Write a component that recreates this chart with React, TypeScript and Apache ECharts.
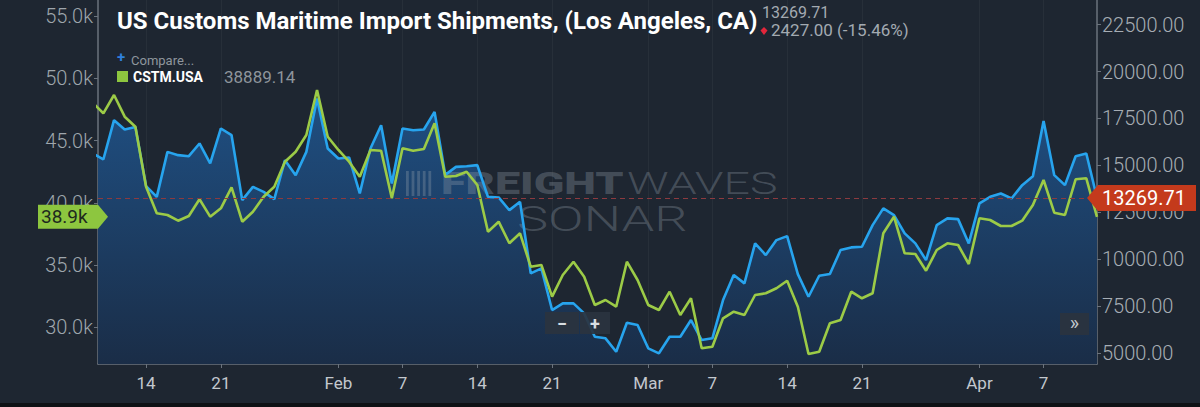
import React, { useEffect, useRef } from "react";
import * as echarts from "echarts";

const dates = [
  "2024-01-09","2024-01-10","2024-01-11","2024-01-12","2024-01-13","2024-01-14","2024-01-15","2024-01-16","2024-01-17","2024-01-18",
  "2024-01-19","2024-01-20","2024-01-21","2024-01-22","2024-01-23","2024-01-24","2024-01-25","2024-01-26","2024-01-27","2024-01-28",
  "2024-01-29","2024-01-30","2024-01-31","2024-02-01","2024-02-02","2024-02-03","2024-02-04","2024-02-05","2024-02-06","2024-02-07",
  "2024-02-08","2024-02-09","2024-02-10","2024-02-11","2024-02-12","2024-02-13","2024-02-14","2024-02-15","2024-02-16","2024-02-17",
  "2024-02-18","2024-02-19","2024-02-20","2024-02-21","2024-02-22","2024-02-23","2024-02-24","2024-02-25","2024-02-26","2024-02-27",
  "2024-02-28","2024-02-29","2024-03-01","2024-03-02","2024-03-03","2024-03-04","2024-03-05","2024-03-06","2024-03-07","2024-03-08",
  "2024-03-09","2024-03-10","2024-03-11","2024-03-12","2024-03-13","2024-03-14","2024-03-15","2024-03-16","2024-03-17","2024-03-18",
  "2024-03-19","2024-03-20","2024-03-21","2024-03-22","2024-03-23","2024-03-24","2024-03-25","2024-03-26","2024-03-27","2024-03-28",
  "2024-03-29","2024-03-30","2024-03-31","2024-04-01","2024-04-02","2024-04-03","2024-04-04","2024-04-05","2024-04-06","2024-04-07",
  "2024-04-08","2024-04-09","2024-04-10","2024-04-11","2024-04-12",
];

// US Customs Maritime Import Shipments (Los Angeles, CA) — right axis
const laShipments = [
  15638, 15319, 17409, 16915, 17053, 13899, 13330, 15723, 15548, 15494,
  16170, 15106, 16968, 16611, 13154, 13861, 13596, 13207, 15282, 14484,
  15723, 18563, 15904, 15372, 15425, 13510, 15904, 17143, 14042, 16968,
  16877, 16915, 17851, 14500, 14925, 14962, 15016, 13330, 13298, 12622,
  13064, 9255, 9521, 7303, 7660, 7660, 7128, 5883, 5798, 5085,
  6628, 6505, 5266, 5000, 5883, 5883, 6771, 5707, 5798, 7835,
  9165, 8723, 10851, 10229, 11026, 11239, 9218, 8011, 9128, 9218,
  10495, 10638, 10670, 11824, 12713, 12356, 11383, 10851, 9963, 11824,
  12181, 12143, 10851, 12979, 13330, 13510, 13244, 13952, 14431, 17372,
  14484, 13952, 15494, 15638, 13269.71,
];

// CSTM.USA — left axis
const cstmUsa = [
  48056, 47205, 48674, 46932, 46128, 41309, 39172, 39036, 38578, 38956,
  40297, 38900, 39574, 41261, 38498, 39301, 40506, 41309, 43317, 44120,
  45462, 49076, 45325, 44257, 43317, 42112, 44257, 44201, 40377, 44393,
  44201, 44337, 46401, 42112, 42168, 42514, 41446, 37695, 38498, 36763,
  37566, 34883, 35020, 32474, 34217, 35285, 34080, 31807, 32209, 31671,
  35285, 33815, 31807, 31406, 32875, 31004, 32345, 28329, 28458, 30739,
  31269, 31004, 32610, 32747, 33149, 33759, 31671, 27872, 28056, 30337,
  30602, 32875, 32345, 32747, 37566, 38900, 35960, 35904, 34562, 36225,
  36763, 36626, 35100, 38771, 38634, 38152, 38152, 38578, 39839, 41847,
  39221, 39036, 41903, 41984, 38889.14,
];

const tickDates = [
  "2024-01-14","2024-01-21","2024-02-01","2024-02-07","2024-02-14","2024-02-21",
  "2024-03-01","2024-03-07","2024-03-14","2024-03-21","2024-04-01","2024-04-07",
];
const tickLabels = ["14", "21", "Feb", "7", "14", "21", "Mar", "7", "14", "21", "Apr", "7"];
const leftTicks = [30000, 35000, 40000, 45000, 50000, 55000];
const rightTicks = [5000, 7500, 10000, 12500, 15000, 17500, 20000, 22500];

const FONT = "Roboto, 'Noto Sans', sans-serif";
const BG = "#1e2631";
const AXIS = "#6b737d";

function txt(x: number, y: number, text: string, font: string, fill: string, extra: any = {}) {
  return {
    type: "text",
    x,
    y,
    silent: true,
    z: extra.z ?? 20,
    scaleX: extra.scaleX ?? 1,
    style: {
      text,
      font,
      fill,
      align: extra.align ?? "left",
      textAlign: extra.align ?? "left",
      verticalAlign: "middle",
      textVerticalAlign: "middle",
    },
  };
}

export default function App() {
  const ref = useRef<HTMLDivElement>(null);

  useEffect(() => {
    const el = ref.current!;
    const chart = echarts.init(el, null, { renderer: "svg" });

    const tickIdx = tickDates.map((d) => dates.indexOf(d));
    const labelFor: Record<number, string> = {};
    tickIdx.forEach((ix, k) => (labelFor[ix] = tickLabels[k]));

    const laData = laShipments.map((v, i) => [i, v]);
    const usaData = cstmUsa.map((v, i) => [i, v]);
    const lastLa = laShipments[laShipments.length - 1];
    const lastUsa = cstmUsa[cstmUsa.length - 1];

    chart.setOption({
      animation: false,
      backgroundColor: BG,
      grid: { left: 98, right: 103, top: 0, bottom: 43, containLabel: false },
      xAxis: {
        type: "value",
        min: 0.5,
        max: dates.length - 1,
        axisLine: { show: true, onZero: false, lineStyle: { color: AXIS, width: 1.5 } },
        axisTick: { show: true, length: 4, customValues: tickIdx, lineStyle: { color: AXIS } },
        axisLabel: {
          customValues: tickIdx,
          formatter: (v: number) => labelFor[Math.round(v)] ?? "",
          color: "#c3c8ce",
          fontSize: 17,
          fontFamily: FONT,
          margin: 10,
        },
        splitLine: { show: true, lineStyle: { color: "rgba(255,255,255,0.045)", width: 1 } },
      },
      yAxis: [
        {
          type: "value",
          position: "left",
          min: 27068,
          max: 56305,
          axisLine: { show: true, lineStyle: { color: AXIS, width: 1.5 } },
          axisTick: { show: true, length: 4, customValues: leftTicks, lineStyle: { color: AXIS } },
          axisLabel: {
            customValues: leftTicks,
            formatter: (v: number) => (v / 1000).toFixed(1) + "k",
            color: "#9fa6ad",
            fontSize: 20,
            fontWeight: 300,
            fontFamily: FONT,
            margin: 5,
          },
          splitLine: { show: false },
        },
        {
          type: "value",
          position: "right",
          min: 4431,
          max: 23808,
          axisLine: { show: true, lineStyle: { color: AXIS, width: 1.5 } },
          axisTick: { show: true, length: 4, customValues: rightTicks, lineStyle: { color: AXIS } },
          axisLabel: {
            customValues: rightTicks,
            formatter: (v: number) => v.toFixed(2),
            color: "#a6adb4",
            fontSize: 20,
            fontWeight: 300,
            fontFamily: FONT,
            margin: 5,
          },
          splitLine: { show: false },
        },
      ],
      series: [
        {
          type: "line",
          name: "LA area",
          yAxisIndex: 1,
          data: laData,
          symbol: "none",
          silent: true,
          z: 1,
          lineStyle: { width: 0, opacity: 0 },
          areaStyle: {
            origin: "start",
            color: new echarts.graphic.LinearGradient(0, 0, 0, 1, [
              { offset: 0, color: "#1f4f82" },
              { offset: 1, color: "#1a2d47" },
            ]),
            opacity: 1,
          },
        },
        {
          type: "line",
          name: "US Customs Maritime Import Shipments, (Los Angeles, CA)",
          yAxisIndex: 1,
          data: laData,
          symbol: "none",
          z: 3,
          lineStyle: { width: 2.6, color: "#27a4ee" },
          markLine: {
            silent: true,
            symbol: ["none", "none"],
            label: { show: false },
            lineStyle: { color: "#8c3a3f", type: [5, 4], width: 1 },
            data: [{ yAxis: lastLa }],
          },
        },
        {
          type: "line",
          name: "CSTM.USA",
          yAxisIndex: 0,
          data: usaData,
          symbol: "none",
          z: 4,
          lineStyle: { width: 2.6, color: "#9ccb47" },
        },
      ],
    });

    const yLa = chart.convertToPixel({ yAxisIndex: 1 } as any, lastLa) as number;
    const yUsa = chart.convertToPixel({ yAxisIndex: 0 } as any, lastUsa) as number;
    const wm = "rgba(150,160,172,0.33)";

    const bars = [0, 1, 2, 3, 4].map((k) => ({
      type: "rect",
      silent: true,
      z: 2,
      shape: { x: 406 + k * 5.6, y: 171, width: 2.8, height: 25 },
      style: { fill: wm },
    }));

    chart.setOption({
      graphic: [
        // title block
        txt(117, 21, "US Customs Maritime Import Shipments, (Los Angeles, CA)", `bold 24px ${FONT}`, "#ffffff"),
        txt(762, 12, lastLa.toFixed(2), `16px ${FONT}`, "#a3aab1"),
        {
          type: "polygon",
          silent: true,
          z: 20,
          shape: { points: [[764, 27], [767.5, 30.5], [764, 35], [760.5, 30.5]] },
          style: { fill: "#e3263b" },
        },
        txt(771, 30, "2427.00 (-15.46%)", `17px ${FONT}`, "#a3aab1"),
        // legend
        txt(117, 57, "+", `bold 15px ${FONT}`, "#2f80dc"),
        txt(131, 60, "Compare...", `13px ${FONT}`, "#8f969d"),
        {
          type: "rect",
          silent: true,
          z: 20,
          shape: { x: 117, y: 71, width: 11, height: 11 },
          style: { fill: "#8dc63f" },
        },
        txt(133, 77, "CSTM.USA", `bold 14px ${FONT}`, "#ffffff"),
        txt(224, 77, lastUsa.toFixed(2), `17px ${FONT}`, "#8e959c"),
        // watermark
        ...bars,
        txt(441, 183, "FREIGHT", `900 31px ${FONT}`, wm, { z: 2, scaleX: 1.45 }),
        txt(627, 183, "WAVES", `300 31px ${FONT}`, wm, { z: 2, scaleX: 1.5 }),
        txt(517, 219, "SONAR", `300 35px ${FONT}`, wm, { z: 2, scaleX: 1.5 }),
        // zoom buttons
        {
          type: "rect",
          silent: true,
          z: 20,
          shape: { x: 545, y: 312, width: 34, height: 22 },
          style: { fill: "rgba(42,51,63,0.92)" },
        },
        {
          type: "rect",
          silent: true,
          z: 20,
          shape: { x: 580, y: 312, width: 30, height: 22 },
          style: { fill: "rgba(42,51,63,0.92)" },
        },
        txt(562, 323, "−", `bold 18px ${FONT}`, "#d8dde2", { align: "center", z: 21 }),
        txt(595, 323, "+", `bold 18px ${FONT}`, "#d8dde2", { align: "center", z: 21 }),
        {
          type: "rect",
          silent: true,
          z: 20,
          shape: { x: 1060, y: 313, width: 29, height: 22 },
          style: { fill: "rgba(42,51,63,0.92)" },
        },
        txt(1074.5, 323, "»", `20px ${FONT}`, "#c3c8ce", { align: "center", z: 21 }),
        // last-value tags
        {
          type: "polygon",
          silent: true,
          z: 30,
          shape: {
            points: [[38, yUsa - 12], [98, yUsa - 12], [108, yUsa], [98, yUsa + 12], [38, yUsa + 12]],
          },
          style: { fill: "#8dc63f" },
        },
        txt(41, yUsa, (lastUsa / 1000).toFixed(1) + "k", `19px ${FONT}`, "#1e2a1e", { z: 31 }),
        {
          type: "polygon",
          silent: true,
          z: 30,
          shape: {
            points: [[1087, yLa], [1098, yLa - 13], [1196, yLa - 13], [1196, yLa + 13], [1098, yLa + 13]],
          },
          style: { fill: "#c43a1c" },
        },
        txt(1102, yLa, lastLa.toFixed(2), `20px ${FONT}`, "#ffffff", { z: 31 }),
        // bottom strip
        {
          type: "rect",
          silent: true,
          z: 30,
          shape: { x: 0, y: 403, width: 1200, height: 4 },
          style: { fill: "#0e1115" },
        },
      ],
    });

    return () => chart.dispose();
  }, []);

  return (
    <div
      ref={ref}
      style={{ position: "fixed", left: 0, top: 0, width: 1200, height: 407, background: BG }}
    />
  );
}
